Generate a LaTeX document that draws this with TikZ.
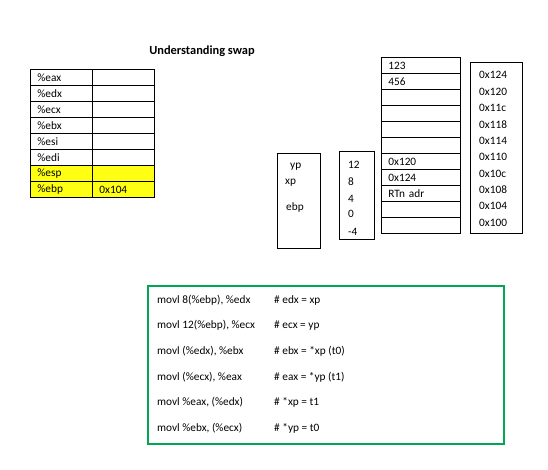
\documentclass[tikz,border=0pt]{standalone}
\usepackage{fontspec}
\setmainfont{Carlito}
\definecolor{codegreen}{RGB}{0,166,81}
\definecolor{regyellow}{RGB}{255,255,20}

\tikzset{
  txt/.style={font=\fontsize{11.3}{12}\selectfont},
  cell/.style={draw, line width=0.8pt, anchor=north west, minimum height=16pt,
    inner xsep=7pt, inner ysep=0pt, align=left, txt},
  regcell/.style={cell, text width=48pt},
  stackcell/.style={cell, text width=65pt},
  frame/.style={draw, line width=0.8pt, inner sep=0pt, anchor=north west},
  lbl/.style={anchor=west, inner sep=0pt, txt},
  codeframe/.style={draw=codegreen, line width=1.8pt, inner sep=0pt, anchor=north west},
}

\begin{document}
\begin{tikzpicture}[x=1pt,y=-1pt]
\useasboundingbox (0,0) rectangle (548,469);

% title
\node[anchor=center, inner sep=0pt, font=\fontsize{12.4}{13}\selectfont\bfseries] (title) at (202,51) {Understanding swap};

% registers
\foreach \name/\val [count=\i from 0] in {eax/,edx/,ecx/,ebx/,esi/,edi/} {
  \node[regcell] (reg-\i) at (30,69+16*\i) {\%\name};
  \node[regcell] (val-\i) at (92,69+16*\i) {\val};
}
\node[regcell, fill=regyellow] (reg-6) at (30,165) {\%esp};
\node[regcell, fill=regyellow] (val-6) at (92,165) {};
\node[regcell, fill=regyellow] (reg-7) at (30,181) {\%ebp};
\node[regcell, fill=regyellow] (val-7) at (92,181) {0x104};

% names on the frame
\node[frame, minimum width=43pt, minimum height=95pt] (names) at (277,153) {};
\node[lbl] (yp) at (290,167) {yp};
\node[lbl] (xp) at (285,183) {xp};
\node[lbl] (ebp) at (286,207) {ebp};

% offsets from ebp
\node[frame, minimum width=35pt, minimum height=88pt] (offs) at (339,151) {};
\foreach \off/\y in {12/165,8/182,4/199,0/214,-4/232}
  \node[lbl] (off\off) at (348,\y) {\off};

% stack
\foreach \val [count=\i from 0] in {123,456,,,,,0x120,0x124,RTn adr,,}
  \node[stackcell] (stk-\i) at (381,57+16*\i) {\val};

% addresses
\node[frame, minimum width=52pt, minimum height=171pt] (addrs) at (470,62) {};
\foreach \a [count=\i from 0] in {124,120,11c,118,114,110,10c,108,104,100}
  \node[lbl] (addr-\a) at (479,75+16.4*\i) {0x\a};

% code
\node[codeframe, minimum width=356pt, minimum height=158pt] (code) at (147,285) {};
\foreach \ins/\cmt [count=\i from 0] in {
    movl 8(\%ebp){,} \%edx/\# edx = xp,
    movl 12(\%ebp){,} \%ecx/\# ecx = yp,
    movl (\%edx){,} \%ebx/\# ebx = *xp (t0),
    movl (\%ecx){,} \%eax/\# eax = *yp (t1),
    movl \%eax{,} (\%edx)/\# *xp = t1,
    movl \%ebx{,} (\%ecx)/\# *yp = t0} {
  \node[lbl] (ins-\i) at (157,300+25.6*\i) {\ins};
  \node[lbl] (cmt-\i) at (274,300+25.6*\i) {\cmt};
}
\end{tikzpicture}
\end{document}
